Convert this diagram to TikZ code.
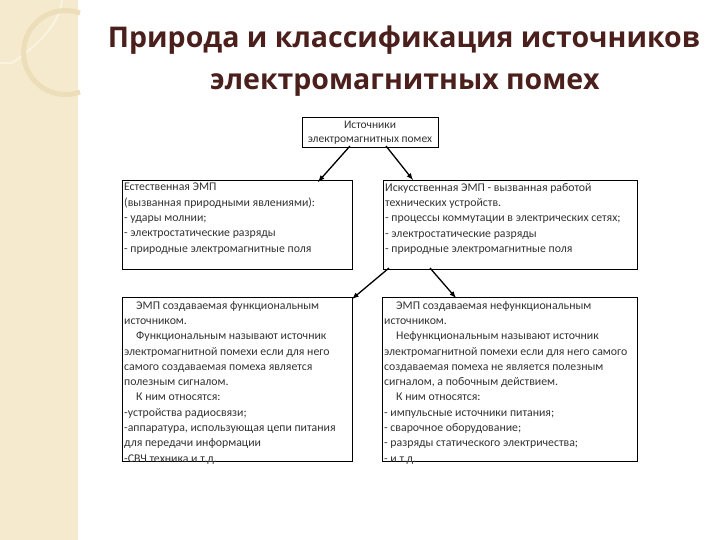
\documentclass[tikz,border=0pt]{standalone}
\usepackage{fontspec}
\setmainfont{Carlito}
\newfontfamily\titlefont{Open Sans}
\definecolor{strip}{RGB}{245,234,205}
\definecolor{stripl}{RGB}{250,243,225}
\definecolor{stripd}{RGB}{235,222,185}
\definecolor{ttlc}{RGB}{75,32,28}
\begin{document}
\begin{tikzpicture}[x=1pt,y=-1pt,
  box/.style={draw=black,line width=0.8pt,anchor=north west,inner sep=0pt},
  txt/.style={anchor=north west,align=left,font=\fontsize{11.8}{15.3}\selectfont,text=black!80,inner sep=0pt},
  ttl/.style={font=\titlefont\bfseries\fontsize{28.5}{28.5}\selectfont,text=ttlc},
  arr/.style={-latex,line width=1.3pt}]
\useasboundingbox (0,0) rectangle (720,540);
\fill[white] (0,0) rectangle (720,540);
\fill[strip] (0,0) rectangle (78,540);
\draw[stripl,line width=2pt] (0,63) -- (12,63) .. controls (45,40) and (60,20) .. (62,0);
\draw[stripd,line width=5pt] (80,92) arc (70:290:42);
\node[ttl] (t1) at (404,40) {Природа и классификация источников};
\node[ttl] (t2) at (405,85) {электромагнитных помех};
\node[box,minimum width=136,minimum height=30] (top) at (302,117) {};
\node[align=center,font=\fontsize{11.5}{14}\selectfont,text=black!80] (toptxt) at (370,133) {Источники\\электромагнитных помех};
\node[box,minimum width=230,minimum height=89] (l1) at (122,180) {};
\node[box,minimum width=254,minimum height=89] (r1) at (383,180) {};
\node[box,minimum width=230,minimum height=164] (l2) at (122,297) {};
\node[box,minimum width=255,minimum height=164] (r2) at (382,297) {};
\node[txt] (l1t) at (124,183) {Естественная ЭМП\\(вызванная природными явлениями):\\- удары молнии;\\- электростатические разряды\\- природные электромагнитные поля};
\node[txt] (r1t) at (385,183) {Искусственная ЭМП - вызванная работой\\технических устройств.\\- процессы коммутации в электрических сетях;\\- электростатические разряды\\- природные электромагнитные поля};
\node[txt] (l2t) at (124,301) {\hspace{12pt}ЭМП создаваемая функциональным\\источником.\\\hspace{12pt}Функциональным называют источник\\электромагнитной помехи если для него\\самого создаваемая помеха является\\полезным сигналом.\\\hspace{12pt}К ним относятся:\\-устройства радиосвязи;\\-аппаратура, использующая цепи питания\\для передачи информации\\-СВЧ техника и т.д.};
\node[txt] (r2t) at (384,301) {\hspace{12pt}ЭМП создаваемая нефункциональным\\источником.\\\hspace{12pt}Нефункциональным называют источник\\электромагнитной помехи если для него самого\\создаваемая помеха не является полезным\\сигналом, а побочным действием.\\\hspace{12pt}К ним относятся:\\- импульсные источники питания;\\- сварочное оборудование;\\- разряды статического электричества;\\- и т.д.};
\coordinate (a1) at (350,146); \coordinate (a2) at (386,146);
\coordinate (b1) at (389,268); \coordinate (b2) at (430,268);
\draw[arr] (a1) -- (318,182);
\draw[arr] (a2) -- (413,180);
\draw[arr] (b1) -- (352,299);
\draw[arr] (b2) -- (456,298);
\end{tikzpicture}
\end{document}
